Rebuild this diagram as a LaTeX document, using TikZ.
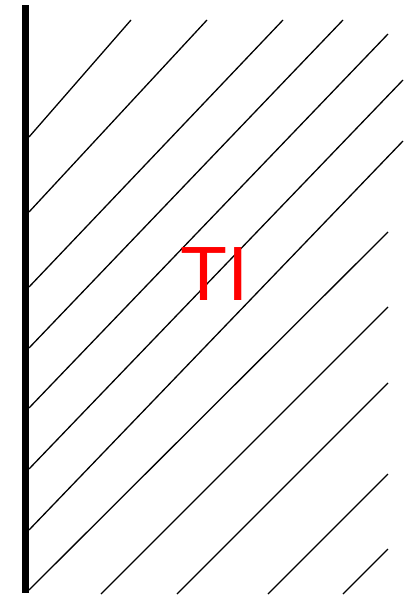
\documentclass[tikz,border=0pt]{standalone}
\usepackage{fontspec}
\setmainfont{Liberation Sans}
\begin{document}
\begin{tikzpicture}[x=1pt,y=-1pt,
  hatch/.style={line width=1.3pt,black},
  wall/.style={line width=7.5pt,black},
  lbl/.style={text=red,font=\fontsize{77}{80}\selectfont,inner sep=0pt,anchor=base}]
\useasboundingbox (0,0) rectangle (408,597);
\draw[wall] (25.5,5) -- (25.5,593);
\draw[hatch] (29,137) -- (131,20);
\draw[hatch] (29,212) -- (207,20);
\draw[hatch] (29,287) -- (283,20);
\draw[hatch] (29,348) -- (343,20);
\draw[hatch] (29,408) -- (388,34);
\draw[hatch] (29,469) -- (403,80);
\draw[hatch] (29,530) -- (403,141);
\draw[hatch] (29,590) -- (388,232);
\draw[hatch] (101,594) -- (388,307);
\draw[hatch] (177,594) -- (388,383);
\draw[hatch] (268,594) -- (388,474);
\draw[hatch] (343,594) -- (388,549);
\node[lbl] (ti) at (214.5,300.5) {TI};
\end{tikzpicture}
\end{document}
